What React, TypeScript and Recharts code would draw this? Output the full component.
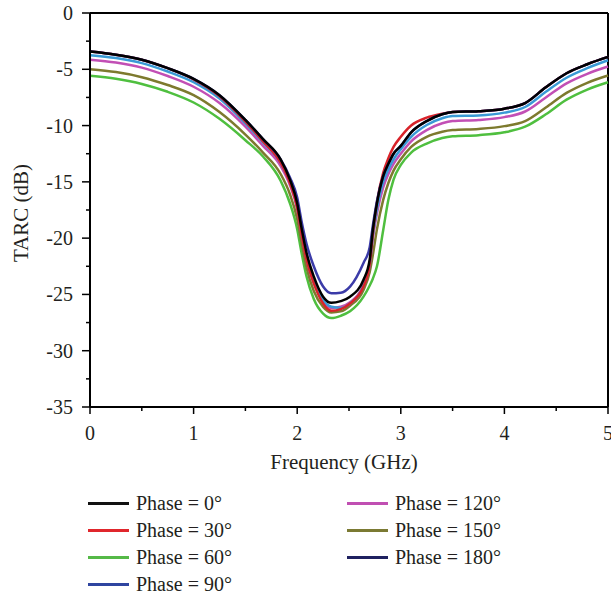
import React from 'react';
import { LineChart, Line, XAxis, YAxis, ReferenceLine } from 'recharts';

const freq = [0, 0.25, 0.5, 0.75, 1.0, 1.25, 1.5, 1.67, 1.84, 1.93, 2.0, 2.04, 2.09, 2.16, 2.25, 2.33, 2.42, 2.51, 2.64, 2.7, 2.73, 2.77, 2.83, 2.88, 2.93, 3.0, 3.1, 3.25, 3.4, 3.5, 3.75, 4.0, 4.2, 4.4, 4.6, 4.8, 5.0];

const phase0 = [-3.42, -3.7, -4.15, -4.9, -5.85, -7.3, -9.5, -11.2, -13.0, -14.8, -16.9, -19.0, -21.3, -23.4, -25.2, -25.75, -25.6, -25.2, -23.7, -21.9, -19.3, -16.9, -14.5, -13.4, -12.5, -11.8, -10.6, -9.6, -9.0, -8.8, -8.72, -8.5, -8.0, -6.6, -5.35, -4.55, -3.9];
const phase30 = [-3.42, -3.7, -4.15, -4.9, -5.9, -7.4, -9.65, -11.4, -13.3, -15.1, -17.3, -19.5, -21.9, -24.0, -25.8, -26.45, -26.3, -25.8, -24.3, -22.3, -19.6, -16.8, -14.2, -12.9, -11.9, -11.0, -10.0, -9.3, -8.95, -8.8, -8.72, -8.5, -8.0, -6.6, -5.35, -4.55, -3.9];
const phase60 = [-5.58, -5.85, -6.3, -7.0, -7.95, -9.4, -11.3, -12.75, -14.9, -16.9, -19.2, -21.2, -23.4, -25.4, -26.7, -27.1, -26.9, -26.5, -25.2, -24.2, -23.6, -22.5, -19.3, -16.6, -14.8, -13.5, -12.4, -11.6, -11.1, -10.95, -10.85, -10.6, -10.1, -9.0, -7.7, -6.8, -6.15];
const phase90 = [-3.75, -4.0, -4.45, -5.2, -6.15, -7.6, -9.8, -11.5, -13.3, -15.0, -17.1, -19.2, -21.6, -23.8, -25.5, -26.1, -26.2, -25.8, -24.2, -22.3, -19.8, -17.4, -15.0, -13.9, -13.0, -12.1, -11.0, -9.95, -9.35, -9.15, -9.1, -8.85, -8.35, -7.0, -5.75, -4.9, -4.2];
const phase120 = [-4.15, -4.4, -4.85, -5.6, -6.55, -8.0, -10.1, -11.8, -13.6, -15.3, -17.4, -19.5, -21.9, -24.0, -25.6, -26.2, -26.1, -25.7, -24.1, -22.3, -20.0, -17.8, -15.5, -14.3, -13.4, -12.5, -11.4, -10.4, -9.8, -9.6, -9.5, -9.25, -8.75, -7.5, -6.25, -5.4, -4.75];
const phase150 = [-5.0, -5.25, -5.7, -6.4, -7.3, -8.8, -10.8, -12.4, -14.3, -16.1, -18.3, -20.3, -22.6, -24.7, -26.1, -26.6, -26.5, -26.0, -24.6, -23.0, -21.5, -19.2, -16.6, -15.1, -14.0, -13.0, -11.9, -11.0, -10.55, -10.4, -10.3, -10.05, -9.6, -8.4, -7.1, -6.2, -5.55];
const phase180 = [-3.42, -3.7, -4.15, -4.9, -5.85, -7.3, -9.5, -11.2, -13.0, -14.6, -16.4, -18.4, -20.5, -22.5, -24.3, -24.9, -24.85, -24.3, -22.2, -20.8, -18.9, -16.7, -14.5, -13.4, -12.5, -11.8, -10.6, -9.6, -9.0, -8.8, -8.72, -8.5, -8.0, -6.6, -5.35, -4.55, -3.9];

const xTicks = [0, 0.5, 1, 1.5, 2, 2.5, 3, 3.5, 4, 4.5, 5];
const yTicks = [-35, -32.5, -30, -27.5, -25, -22.5, -20, -17.5, -15, -12.5, -10, -7.5, -5, -2.5, 0];

const seriesList = [
  { key: 'p0', name: 'Phase = 0°', values: phase0, color: '#000000', legendColor: '#111111' },
  { key: 'p30', name: 'Phase = 30°', values: phase30, color: '#d8232a', legendColor: '#e0262c' },
  { key: 'p60', name: 'Phase = 60°', values: phase60, color: '#4fbf3f', legendColor: '#55b947' },
  { key: 'p90', name: 'Phase = 90°', values: phase90, color: '#3a9ad6', legendColor: '#2f45a0' },
  { key: 'p120', name: 'Phase = 120°', values: phase120, color: '#c24fb5', legendColor: '#c04fb2' },
  { key: 'p150', name: 'Phase = 150°', values: phase150, color: '#7d7a2e', legendColor: '#7b7a33' },
  { key: 'p180', name: 'Phase = 180°', values: phase180, color: '#3b3ba8', legendColor: '#1f2160' },
];

const drawOrder = ['p60', 'p150', 'p120', 'p90', 'p30', 'p180', 'p0'];

const data = freq.map((f, i) => {
  const row: Record<string, number> = { f };
  seriesList.forEach((s) => { row[s.key] = s.values[i]; });
  return row;
});

const FONT = '"Liberation Serif", "DejaVu Serif", serif';
const TEXT = '#231f20';

const XTick = (props: any) => {
  const { x, y, payload } = props;
  const major = Number.isInteger(payload.value);
  return (
    <g>
      <line x1={x} x2={x} y1={y} y2={y + (major ? 7 : 4)} stroke="#000" strokeWidth={1.5} />
      {major && (
        <text x={x} y={y + 33} textAnchor="middle" fontFamily={FONT} fontSize={20} fill={TEXT}>
          {payload.value}
        </text>
      )}
    </g>
  );
};

const YTick = (props: any) => {
  const { x, y, payload } = props;
  const major = Number.isInteger(payload.value / 5);
  return (
    <g>
      <line x1={x} x2={x - (major ? 8 : 4)} y1={y} y2={y} stroke="#000" strokeWidth={1.5} />
      {major && (
        <text x={x - 17} y={y} dy="0.35em" textAnchor="end" fontFamily={FONT} fontSize={20} fill={TEXT}>
          {payload.value}
        </text>
      )}
    </g>
  );
};

const legendCol1 = seriesList.slice(0, 4);
const legendCol2 = seriesList.slice(4);

export default function App() {
  return (
    <div style={{ position: 'absolute', left: 0, top: 0, width: 611, height: 596, background: '#fff' }}>
      <LineChart width={611} height={596} data={data} margin={{ top: 13, right: 3, left: 0, bottom: 129 }}>
        <XAxis
          dataKey="f"
          type="number"
          domain={[0, 5]}
          ticks={xTicks}
          interval={0}
          tickSize={0}
          tickMargin={0}
          tickLine={false}
          tick={<XTick />}
          axisLine={{ stroke: '#000', strokeWidth: 2 }}
          height={60}
          label={{
            content: (p: any) => {
              const vb = p.viewBox || {};
              return (
                <text x={vb.x + vb.width / 2 - 5} y={469} textAnchor="middle" fontFamily={FONT} fontSize={21} fill={TEXT}>
                  Frequency (GHz)
                </text>
              );
            },
          }}
        />
        <YAxis
          type="number"
          domain={[-35, 0]}
          ticks={yTicks}
          interval={0}
          tickSize={0}
          tickMargin={0}
          tickLine={false}
          tick={<YTick />}
          axisLine={{ stroke: '#000', strokeWidth: 2 }}
          width={90}
          allowDataOverflow
          label={{
            content: () => (
              <text x={28} y={213} transform="rotate(-90 28 213)" textAnchor="middle" fontFamily={FONT} fontSize={21} fill={TEXT}>
                TARC (dB)
              </text>
            ),
          }}
        />
        <ReferenceLine y={0} stroke="#000" strokeWidth={2} />
        <ReferenceLine x={5} stroke="#000" strokeWidth={2} />
        {drawOrder.map((k) => {
          const s = seriesList.find((q) => q.key === k)!;
          return (
            <Line
              key={k}
              dataKey={k}
              name={s.name}
              type="monotone"
              stroke={s.color}
              strokeWidth={2.5}
              dot={false}
              activeDot={false}
              isAnimationActive={false}
            />
          );
        })}
      </LineChart>
      {[legendCol1, legendCol2].map((col, ci) =>
        col.map((s, ri) => (
          <div
            key={s.key}
            style={{
              position: 'absolute',
              left: ci === 0 ? 88 : 347,
              top: 503 + ri * 27 - 12,
              height: 24,
              display: 'flex',
              alignItems: 'center',
              fontFamily: FONT,
              fontSize: 20,
              color: TEXT,
              whiteSpace: 'nowrap',
            }}
          >
            <span style={{ display: 'inline-block', width: 41, height: 3, background: s.legendColor, marginRight: 7 }} />
            <span>{s.name}</span>
          </div>
        ))
      )}
    </div>
  );
}
